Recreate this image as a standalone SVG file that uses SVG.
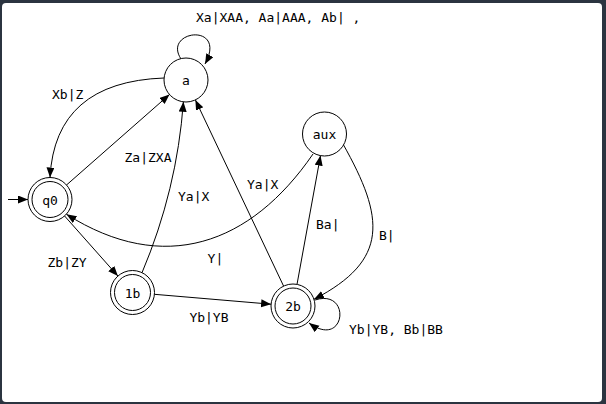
<svg xmlns="http://www.w3.org/2000/svg" width="606" height="404" viewBox="0 0 606 404">
<defs>
<style>
.st{fill:#fff;stroke:#000;stroke-width:1}
.e{fill:none;stroke:#000;stroke-width:1;marker-end:url(#ah)}
text{font-family:"DejaVu Sans Mono","Liberation Mono",monospace;font-size:13px;fill:#000}
.c{text-anchor:middle}
</style>
<marker id="ah" markerUnits="userSpaceOnUse" markerWidth="11" markerHeight="9" refX="10" refY="4" orient="auto">
<path d="M0,0 L10,4 L0,8 z" fill="#000"/>
</marker>
</defs>
<rect x="0" y="0" width="606" height="404" fill="#2b3440"/>
<rect x="2" y="3" width="600" height="399" rx="4" fill="#fff"/>
<g id="connectors">
<line class="e" x1="8" y1="199.5" x2="28" y2="199.5"/>
<line class="e" x1="66.5" y1="185" x2="169.5" y2="94.5"/>
<path class="e" d="M164,78 Q55,82 50,177.5"/>
<path class="e" d="M142,272.7 Q177,190 183.4,101.8"/>
<line class="e" x1="283.6" y1="286.1" x2="195.4" y2="99.9"/>
<path class="e" d="M313,154 C250.7,244.8 163.7,275.8 66.5,214.3"/>
<line class="e" x1="64.6" y1="216" x2="117.9" y2="276"/>
<line class="e" x1="154.4" y1="294.3" x2="271.1" y2="304.2"/>
<line class="e" x1="297" y1="284.4" x2="320.5" y2="155.6"/>
<path class="e" d="M343,144 C384.65,217.95 389.5,260.2 314,299.3"/>
<path class="e" d="M181,59 C162,30 228,22 205,64"/>
<path class="e" d="M315,300 C352,288 346,350 309,323"/>
</g>
<g id="node-a"><circle class="st" cx="186" cy="80" r="22"/><text class="c" x="186" y="85">a</text></g>
<g id="node-q0"><circle class="st" cx="50" cy="199.5" r="22"/><circle class="st" cx="50" cy="199.5" r="18"/><text class="c" x="50" y="204.5">q0</text></g>
<g id="node-1b"><circle class="st" cx="132.5" cy="292.5" r="22"/><circle class="st" cx="132.5" cy="292.5" r="18"/><text class="c" x="132.5" y="297.5">1b</text></g>
<g id="node-2b"><circle class="st" cx="293" cy="306" r="22"/><circle class="st" cx="293" cy="306" r="18"/><text class="c" x="293" y="311">2b</text></g>
<g id="node-aux"><circle class="st" cx="324.5" cy="134" r="22"/><text class="c" x="324.5" y="139">aux</text></g>
<g id="labels">
<text x="196" y="22" xml:space="preserve">Xa|XAA, Aa|AAA, Ab| ,</text>
<text x="52" y="99">Xb|Z</text>
<text x="124.5" y="161.7">Za|ZXA</text>
<text x="178" y="200.7">Ya|X</text>
<text x="247" y="188.7">Ya|X</text>
<text x="316" y="229">Ba|</text>
<text x="379" y="240">B|</text>
<text x="207.6" y="262.7">Y|</text>
<text x="47.5" y="267.3">Zb|ZY</text>
<text x="189.4" y="322.3">Yb|YB</text>
<text x="349" y="333.7">Yb|YB, Bb|BB</text>
</g>
</svg>
